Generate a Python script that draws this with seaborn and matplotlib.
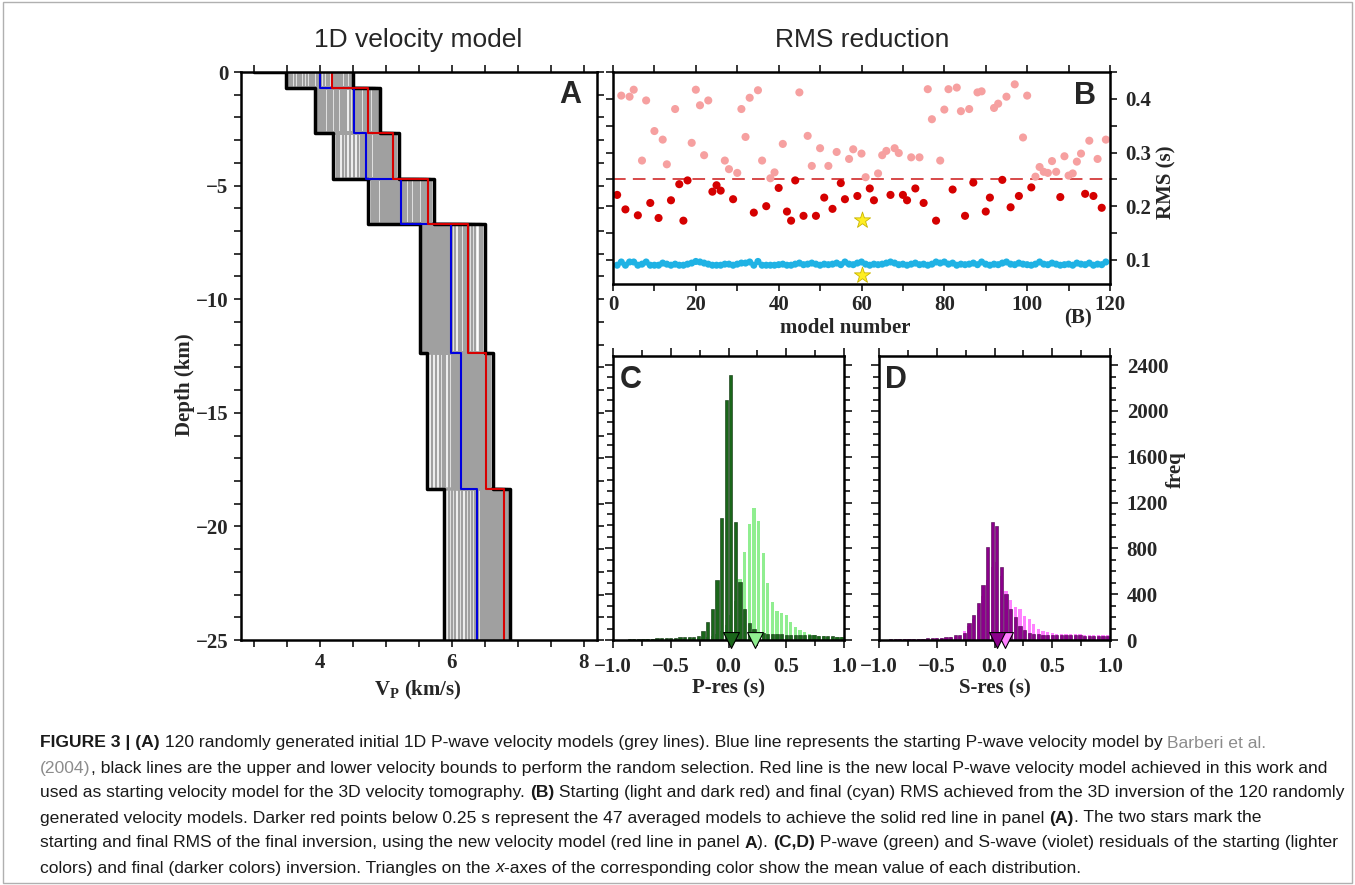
import numpy as np
import pandas as pd
import matplotlib
matplotlib.use("Agg")
import matplotlib.pyplot as plt
import seaborn as sns
from matplotlib.ticker import MultipleLocator, FixedLocator
from matplotlib.patches import Rectangle
from matplotlib.font_manager import FontProperties

sns.set_theme(style="ticks")
plt.rcParams['font.family'] = ['Liberation Serif', 'DejaVu Serif']
plt.rcParams['font.weight'] = 'bold'
plt.rcParams['axes.linewidth'] = 1.8
plt.rcParams['mathtext.fontset'] = 'custom'
plt.rcParams['mathtext.rm'] = 'Liberation Serif:bold'
plt.rcParams['mathtext.bf'] = 'Liberation Serif:bold'

# ---------------- data ----------------
# panel A: layer tops / bottoms (km), first layer sits above the surface
layer_top = [1.0, 0.0, -0.7, -2.7, -4.7, -6.7, -12.35, -18.35]
layer_bottom = [0.0, -0.7, -2.7, -4.7, -6.7, -12.35, -18.35, -25.0]
vp_lower = [3.00, 3.49, 3.92, 4.19, 4.73, 5.51, 5.62, 5.88]
vp_upper = [4.50, 4.50, 4.91, 5.19, 5.72, 6.50, 6.62, 6.88]
vp_barberi = [3.52, 4.00, 4.52, 4.70, 5.23, 5.99, 6.13, 6.38]
vp_new = [3.64, 4.18, 4.72, 5.11, 5.63, 6.25, 6.51, 6.79]

grey_l1 = [3.62, 4.21, 3.88, 4.45, 3.53, 4.02, 3.95, 4.33, 3.71, 4.10, 3.58, 4.38, 3.80, 4.27, 3.66,
           4.14, 3.91, 4.48, 3.75, 4.06, 3.84, 4.30, 3.56, 4.18, 3.99, 4.41, 3.69, 4.24, 3.86, 4.12]
grey_l2 = [4.35, 4.02, 4.71, 4.18, 4.88, 3.97, 4.55, 4.27, 4.62, 4.08, 4.80, 4.40, 3.95, 4.66, 4.22,
           4.50, 4.12, 4.85, 4.31, 4.58, 4.05, 4.76, 4.45, 4.15, 4.69, 4.37, 4.00, 4.83, 4.25, 4.60]
grey_l3 = [4.88, 4.62, 5.05, 4.35, 4.95, 4.73, 5.15, 4.52, 4.99, 4.81, 4.28, 5.10, 4.67, 4.92, 4.45,
           5.02, 4.77, 4.85, 4.58, 5.12, 4.70, 4.97, 4.40, 4.90, 5.08, 4.64, 4.83, 4.25, 5.00, 4.75]
grey_l4 = [5.10, 4.85, 5.45, 4.98, 5.62, 5.25, 4.78, 5.38, 5.05, 5.55, 4.92, 5.30, 5.68, 5.15, 4.88,
           5.50, 5.20, 5.42, 4.95, 5.58, 5.02, 5.35, 5.12, 5.66, 4.82, 5.28, 5.48, 5.08, 5.60, 5.18]
grey_l5 = [5.60, 5.85, 6.10, 5.55, 5.78, 6.30, 5.68, 5.92, 6.18, 5.63, 5.82, 6.42, 5.72, 5.58, 6.05,
           5.88, 5.66, 6.22, 5.75, 5.95, 6.35, 5.70, 5.62, 6.14, 5.80, 5.90, 6.26, 5.57, 6.00, 6.46]
grey_l6 = [6.20, 5.90, 6.45, 6.05, 6.30, 5.70, 6.55, 6.12, 6.38, 6.00, 6.25, 6.50, 5.82, 6.18, 6.42,
           6.08, 6.33, 6.58, 5.95, 6.22, 6.48, 6.15, 5.76, 6.36, 6.02, 6.28, 6.52, 6.10, 6.40, 5.86]
grey_l7 = [6.55, 6.15, 6.70, 6.40, 6.82, 5.95, 6.60, 6.30, 6.75, 6.48, 6.05, 6.85, 6.52, 6.22, 6.66,
           6.44, 6.78, 6.10, 6.58, 6.35, 6.72, 6.50, 6.00, 6.63, 6.80, 6.26, 6.68, 6.45, 6.76, 6.38]

# panel B: RMS per model
model_num = list(range(1, 120))
rms_start = [0.221, 0.406, 0.194, 0.404, 0.417, 0.183, 0.285, 0.397, 0.206, 0.340,
             0.178, 0.324, 0.278, 0.211, 0.381, 0.241, 0.173, 0.248, 0.318, 0.417,
             0.388, 0.295, 0.397, 0.227, 0.239, 0.229, 0.285, 0.269, 0.213, 0.262,
             0.381, 0.329, 0.402, 0.188, 0.416, 0.285, 0.200, 0.252, 0.263, 0.234,
             0.316, 0.190, 0.173, 0.248, 0.412, 0.182, 0.331, 0.275, 0.182, 0.308,
             0.216, 0.275, 0.195, 0.301, 0.243, 0.213, 0.288, 0.306, 0.219, 0.298,
             0.254, 0.233, 0.211, 0.261, 0.295, 0.303, 0.221, 0.308, 0.299, 0.221,
             0.211, 0.291, 0.233, 0.291, 0.206, 0.418, 0.362, 0.173, 0.285, 0.380,
             0.418, 0.231, 0.421, 0.377, 0.182, 0.381, 0.244, 0.412, 0.414, 0.190,
             0.216, 0.383, 0.391, 0.249, 0.404, 0.198, 0.427, 0.219, 0.328, 0.406,
             0.235, 0.255, 0.273, 0.264, 0.262, 0.284, 0.264, 0.217, 0.293, 0.257,
             0.261, 0.283, 0.298, 0.223, 0.322, 0.219, 0.288, 0.197, 0.324]
rms_final = [0.090, 0.096, 0.090, 0.096, 0.096, 0.090, 0.092, 0.096, 0.090, 0.090,
             0.090, 0.094, 0.092, 0.090, 0.092, 0.090, 0.090, 0.092, 0.094, 0.097,
             0.096, 0.094, 0.092, 0.090, 0.090, 0.090, 0.092, 0.092, 0.090, 0.092,
             0.094, 0.094, 0.096, 0.090, 0.097, 0.090, 0.090, 0.090, 0.090, 0.091,
             0.092, 0.090, 0.090, 0.092, 0.094, 0.091, 0.092, 0.094, 0.092, 0.090,
             0.092, 0.091, 0.092, 0.094, 0.091, 0.096, 0.092, 0.091, 0.094, 0.096,
             0.092, 0.090, 0.092, 0.091, 0.092, 0.094, 0.096, 0.094, 0.091, 0.092,
             0.090, 0.092, 0.094, 0.091, 0.092, 0.090, 0.092, 0.096, 0.094, 0.096,
             0.092, 0.094, 0.090, 0.092, 0.091, 0.092, 0.094, 0.091, 0.096, 0.092,
             0.090, 0.092, 0.091, 0.094, 0.096, 0.092, 0.091, 0.094, 0.092, 0.091,
             0.090, 0.092, 0.096, 0.092, 0.091, 0.094, 0.092, 0.090, 0.091, 0.092,
             0.090, 0.094, 0.092, 0.091, 0.094, 0.090, 0.092, 0.091, 0.096]
rms_threshold = 0.25
star_model = [60, 60]
star_rms = [0.174, 0.071]

# panels C, D: residual histograms (bin width 0.04 s, from -1 to 1)
p_final = [3, 4, 4, 5, 5, 6, 8, 10, 12, 14,
           14, 16, 18, 20, 22, 24, 26, 30, 38, 76,
           155, 271, 525, 1068, 2094, 2313, 1030, 505, 270, 150,
           95, 70, 60, 55, 52, 50, 50, 48, 47, 46,
           45, 44, 42, 40, 38, 36, 34, 32, 30, 28]
p_start = [2, 2, 3, 3, 3, 4, 4, 5, 5, 6,
           6, 7, 8, 9, 10, 12, 14, 16, 18, 22,
           28, 38, 55, 80, 130, 220, 340, 534, 767, 1015,
           1155, 1038, 760, 496, 330, 250, 235, 222, 160, 110,
           85, 70, 55, 45, 38, 32, 28, 25, 22, 22]
s_final = [4, 4, 5, 5, 6, 7, 8, 9, 10, 12,
           14, 16, 18, 20, 25, 30, 40, 40, 60, 146,
           222, 321, 484, 811, 1030, 992, 636, 403, 271, 198,
           125, 88, 60, 55, 50, 48, 46, 45, 44, 43,
           42, 41, 40, 40, 38, 38, 36, 35, 34, 33]
s_start = [3, 3, 4, 4, 5, 5, 6, 7, 8, 9,
           10, 12, 14, 16, 20, 25, 29, 38, 80, 120,
           180, 260, 380, 520, 640, 680, 560, 432, 350, 292,
           271, 213, 184, 140, 96, 82, 67, 58, 55, 55,
           52, 52, 50, 50, 48, 48, 45, 45, 44, 44]
p_mean = [0.022, 0.232]
s_mean = [0.025, 0.094]

# ---------------- figure ----------------
W, H = 1355, 885
fig = plt.figure(figsize=(W / 100, H / 100), dpi=100)
fig.patch.set_facecolor('white')


def box(l, r, t, b):
    return [l / W, 1 - b / H, (r - l) / W, (b - t) / H]


axA = fig.add_axes(box(241, 597, 72, 640))
axB = fig.add_axes(box(613, 1110, 72, 284))
axC = fig.add_axes(box(613, 844, 356, 640))
axD = fig.add_axes(box(879, 1110, 356, 640))

serif = 'Liberation Serif'
sans = 'Liberation Sans'


def step_path(vals):
    xs, ys = [], []
    for v, top, bot in zip(vals, layer_top, layer_bottom):
        xs += [v, v]
        ys += [top, bot]
    return xs, ys


# panel A
grey_layers = [grey_l1, grey_l2, grey_l3, grey_l4, grey_l5, grey_l6, grey_l7]
for model in zip(*grey_layers):
    xs, ys = step_path([model[0]] + list(model))
    axA.plot(xs, ys, color='#a0a0a0', lw=1.7, zorder=1)
for vals in (vp_lower, vp_upper):
    xs, ys = step_path(vals)
    axA.plot(xs, ys, color='black', lw=2.5, zorder=3)
xs, ys = step_path(vp_barberi)
axA.plot(xs, ys, color='#0000e0', lw=1.5, zorder=4)
xs, ys = step_path(vp_new)
axA.plot(xs, ys, color='#d80000', lw=1.5, zorder=5)
axA.set_xlim(2.8, 8.2)
axA.set_ylim(-25, 0)
axA.xaxis.set_major_locator(FixedLocator([4, 6, 8]))
axA.xaxis.set_minor_locator(MultipleLocator(0.5))
axA.yaxis.set_major_locator(MultipleLocator(5))
axA.yaxis.set_minor_locator(MultipleLocator(1))
axA.tick_params(which='both', direction='out', top=True, right=True, labelsize=15,
                length=5, width=1.3, pad=4)
axA.text(0.924, 0.96, 'A', transform=axA.transAxes, ha='center', va='center',
         fontsize=22, fontweight='bold', family=sans)

# panel B
dfB = pd.DataFrame({'model': model_num, 'start': rms_start, 'final': rms_final})
dfB['group'] = np.where(dfB['start'] < rms_threshold, 'dark', 'light')
axB.axhline(rms_threshold, color='#d43a3a', lw=1.3, ls=(0, (7, 4)), zorder=1)
sns.scatterplot(data=dfB, x='model', y='start', hue='group',
                palette={'light': '#f6a0a0', 'dark': '#d50000'}, s=34,
                edgecolor='none', legend=False, ax=axB, zorder=3)
sns.scatterplot(data=dfB, x='model', y='final', color='#1fb2e4', s=26,
                edgecolor='none', ax=axB, zorder=3)
axB.scatter(star_model, star_rms, marker='*', s=150, color='#ffee22',
            edgecolor='#c8b400', linewidth=0.6, zorder=4)
axB.set_xlim(0, 120)
axB.set_ylim(0.055, 0.45)
axB.xaxis.set_major_locator(MultipleLocator(20))
axB.xaxis.set_minor_locator(MultipleLocator(10))
axB.yaxis.set_major_locator(MultipleLocator(0.1))
axB.yaxis.set_minor_locator(MultipleLocator(0.05))
axB.tick_params(which='both', direction='out', top=True, right=True, labelleft=False,
                labelright=True, labelsize=15, length=5, width=1.3, pad=6)
axB.tick_params(axis='x', pad=3)
axB.set_xlabel('')
axB.set_ylabel('')
axB.text(0.95, 0.885, 'B', transform=axB.transAxes, ha='center', va='center',
         fontsize=22, fontweight='bold', family=sans)

# panels C and D
bin_left = np.round(np.arange(-1.0, 1.0, 0.04), 2)
bin_mid = bin_left + 0.02
for ax, start, final, means, light, dark, edge, letter in (
        (axC, p_start, p_final, p_mean, '#90ee90', '#1a661a', '#0a300a', 'C'),
        (axD, s_start, s_final, s_mean, '#ff80ff', '#8b008b', '#4a004a', 'D')):
    ax.bar(bin_mid, start, width=0.028, color=light, edgecolor='none', zorder=1)
    ax.bar(bin_mid, final, width=0.028, color=dark, edgecolor=edge, linewidth=0.4, zorder=2)
    ax.scatter([means[1]], [0], marker='v', s=130, color=light, edgecolor='black',
               linewidth=0.8, zorder=6, clip_on=False)
    ax.scatter([means[0]], [0], marker='v', s=130, color=dark, edgecolor='black',
               linewidth=0.8, zorder=7, clip_on=False)
    ax.set_xlim(-1, 1)
    ax.set_ylim(0, 2480)
    ax.xaxis.set_major_locator(MultipleLocator(0.5))
    ax.xaxis.set_minor_locator(MultipleLocator(0.25))
    ax.yaxis.set_major_locator(MultipleLocator(400))
    ax.yaxis.set_minor_locator(MultipleLocator(100))
    ax.tick_params(which='major', length=6)
    ax.tick_params(which='minor', length=4)
    ax.tick_params(which='both', direction='out', top=True, right=True, labelleft=False,
                   labelright=(letter == 'D'), labelsize=15, width=1.3, pad=6)
    ax.text(0.075, 0.915, letter, transform=ax.transAxes, ha='center', va='center',
            fontsize=22, fontweight='bold', family=sans)

for ax in (axA, axB, axC, axD):
    for sp in ax.spines.values():
        sp.set_linewidth(1.8)
        sp.set_color('black')
        sp.set_zorder(5)


# axis labels and titles
def ftext(x, y, s, **kw):
    return fig.text(x / W, 1 - y / H, s, ha='center', va='center', **kw)


ftext(418, 40, '1D velocity model', fontsize=19, fontweight='normal', family=sans)
ftext(862, 40, 'RMS reduction', fontsize=19, fontweight='normal', family=sans)
ftext(185, 385, 'Depth (km)', fontsize=15, rotation=90)
ftext(418, 690, r'V$_\mathbf{P}$ (km/s)', fontsize=15)
ftext(845, 328, 'model number', fontsize=15)
ftext(1166, 182, 'RMS (s)', fontsize=15, rotation=90)
ftext(1078, 318, '(B)', fontsize=15)
ftext(728, 688, 'P-res (s)', fontsize=15)
ftext(995, 688, 'S-res (s)', fontsize=15)
ftext(1176, 470, 'freq', fontsize=15, rotation=90)

# caption
grey_link = '#8c8c8c'
ink = '#1a1a1a'
caption = [
    [("FIGURE 3 | (A)", 'bold', ink, 'normal'),
     (" 120 randomly generated initial 1D P-wave velocity models (grey lines). Blue line represents the starting P-wave velocity model by ", 'normal', ink, 'normal'),
     ("Barberi et al.", 'normal', grey_link, 'normal')],
    [("(2004)", 'normal', grey_link, 'normal'),
     (", black lines are the upper and lower velocity bounds to perform the random selection. Red line is the new local P-wave velocity model achieved in this work and", 'normal', ink, 'normal')],
    [("used as starting velocity model for the 3D velocity tomography. ", 'normal', ink, 'normal'),
     ("(B)", 'bold', ink, 'normal'),
     (" Starting (light and dark red) and final (cyan) RMS achieved from the 3D inversion of the 120 randomly", 'normal', ink, 'normal')],
    [("generated velocity models. Darker red points below 0.25 s represent the 47 averaged models to achieve the solid red line in panel ", 'normal', ink, 'normal'),
     ("(A)", 'bold', ink, 'normal'),
     (". The two stars mark the", 'normal', ink, 'normal')],
    [("starting and final RMS of the final inversion, using the new velocity model (red line in panel ", 'normal', ink, 'normal'),
     ("A", 'bold', ink, 'normal'),
     ("). ", 'normal', ink, 'normal'),
     ("(C,D)", 'bold', ink, 'normal'),
     (" P-wave (green) and S-wave (violet) residuals of the starting (lighter", 'normal', ink, 'normal')],
    [("colors) and final (darker colors) inversion. Triangles on the ", 'normal', ink, 'normal'),
     ("x", 'normal', ink, 'italic'),
     ("-axes of the corresponding color show the mean value of each distribution.", 'normal', ink, 'normal')],
]

renderer = fig.canvas.get_renderer()


def run_width(s, weight, style, size):
    prop = FontProperties(family=sans, weight=weight, style=style, size=size)
    w1, _, _ = renderer.get_text_width_height_descent('|' + s + '|', prop, ismath=False)
    w0, _, _ = renderer.get_text_width_height_descent('||', prop, ismath=False)
    return w1 - w0


base = 12
line2_w = sum(run_width(t, w, st, base) for t, w, c, st in caption[1])
cap_size = base * 1292 / line2_w
cap_x0 = 40
cap_y0 = 743
cap_dy = 25
for k, line in enumerate(caption):
    x = cap_x0
    for t, w, c, st in line:
        fig.text(x / W, 1 - (cap_y0 + k * cap_dy) / H, t, ha='left', va='center',
                 fontsize=cap_size, fontweight=w, style=st, color=c, family=sans)
        x += run_width(t, w, st, cap_size)

fig.add_artist(Rectangle((0.002, 0.002), 0.996, 0.996, transform=fig.transFigure,
                         fill=False, edgecolor='#b0b0b0', lw=1.0))

fig.savefig('out.png', dpi=100, facecolor='white')
